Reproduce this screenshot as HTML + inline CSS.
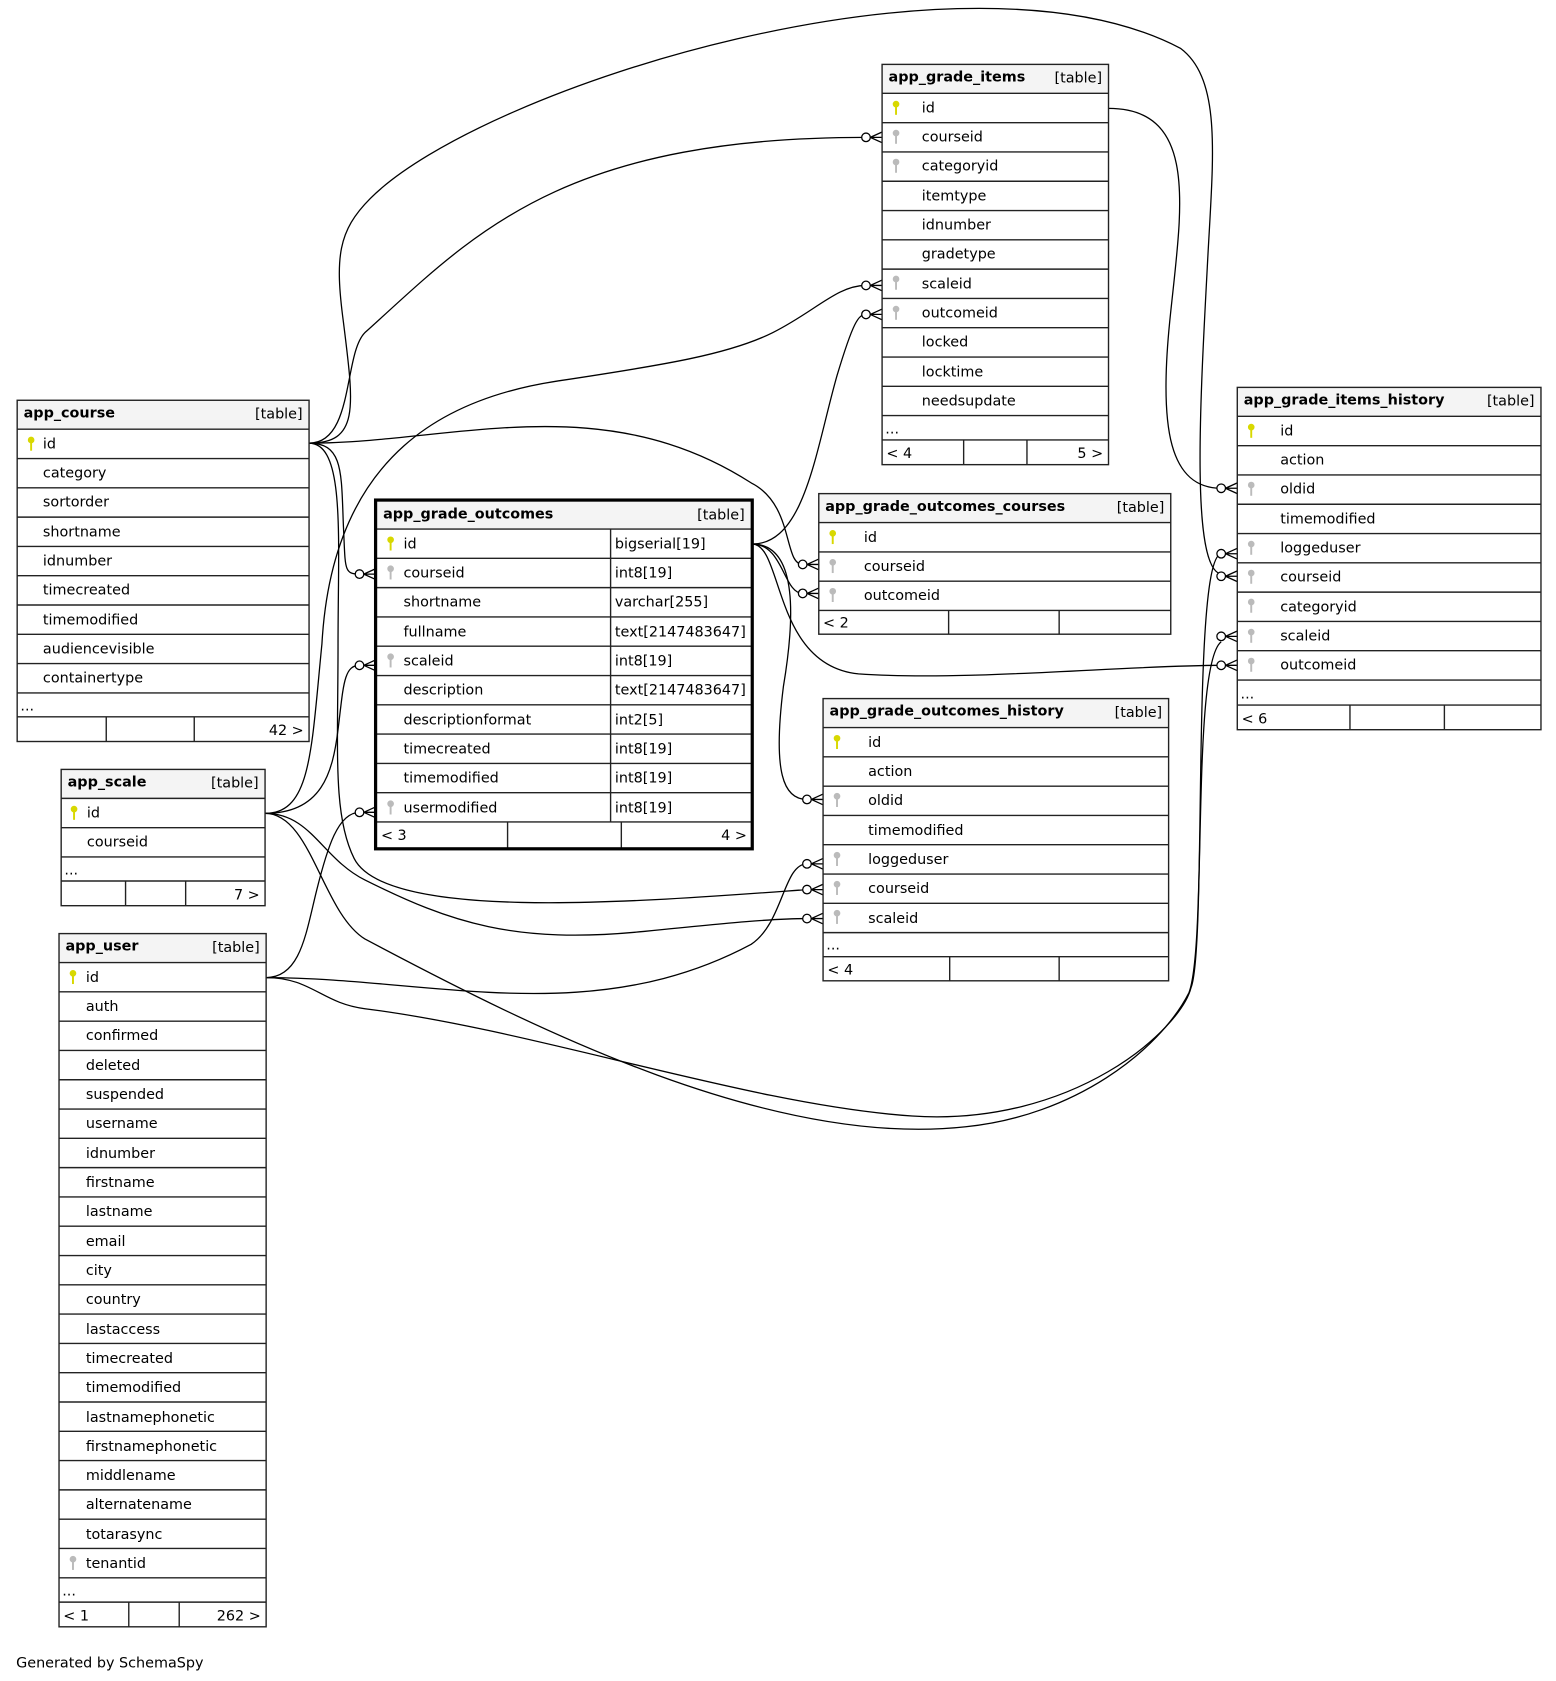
<!DOCTYPE html>
<html><head><meta charset="utf-8"><style>
html,body{margin:0;padding:0;background:#fff;}
svg{display:block;}
text{font-family:"DejaVu Sans","Liberation Sans",sans-serif;font-size:13.4px;fill:#000;}
.h{font-weight:bold;}
.t{text-anchor:end;}
.b{fill:none;stroke:#222;stroke-width:1.3;}
.l{stroke:#222;stroke-width:1.3;}
.hd{fill:#f4f4f4;}
.e{fill:none;stroke:#000;stroke-width:1.2;}
.c{fill:#fff;stroke:#000;stroke-width:1.2;}
.pk{stroke:#d8d800;fill:#d8d800;}
.fk{stroke:#bbb;fill:#bbb;}
</style></head><body>
<svg width="1556" height="1681" viewBox="0 0 1450 1566.5" xmlns="http://www.w3.org/2000/svg">
<defs>
<g id="kp"><circle cx="0" cy="0" r="2.6" class="pk"/><line x1="0" y1="0" x2="0" y2="10" class="pk" stroke-width="1.8"/></g>
<g id="kf"><circle cx="0" cy="0" r="2.6" class="fk"/><line x1="0" y1="0" x2="0" y2="10" class="fk" stroke-width="1.8"/></g>
<g id="cf"><circle cx="-15" cy="0" r="4" class="c"/><path d="M-11,0 L0,-5 M-11,0 L0,0 M-11,0 L0,5" class="e" stroke-width="1.5"/></g>
</defs>

<!-- edges -->
<path class="e" d="M288,413 C330,413 320,330 340,310 C440,220 520,128 807,128"/>
<use href="#cf" x="822" y="128"/>
<path class="e" d="M288,413 C335,413 330,380 320,300 C312,240 315,215 345,185 C450,80 900,-60 1100,45 C1140,75 1130,150 1125,250 C1118,380 1110,530 1138,535"/>
<use href="#cf" x="1153" y="537"/>
<path class="e" d="M288,413 C320,413 318,440 320,490 C322,530 320,535 335,535"/>
<use href="#cf" x="350" y="535"/>
<path class="e" d="M288,413 C420,413 560,360 700,450 C740,470 730,526 748,526"/>
<use href="#cf" x="763" y="526"/>
<path class="e" d="M288,413 C322,413 315,500 315,600 C315,700 310,760 330,800 C360,860 600,840 752,829"/>
<use href="#cf" x="767" y="829"/>
<path class="e" d="M247,758 C290,758 290,700 300,600 C310,420 420,370 520,355 C620,340 680,330 720,310 C760,290 780,266 807,266"/>
<use href="#cf" x="822" y="266"/>
<path class="e" d="M247,758 C300,758 310,720 315,680 C320,640 320,620 335,620"/>
<use href="#cf" x="350" y="620"/>
<path class="e" d="M247,758 C290,758 300,800 340,820 C420,860 480,880 600,868 C680,860 720,856 752,856"/>
<use href="#cf" x="767" y="856"/>
<path class="e" d="M247,758 C290,758 300,850 340,875 C500,960 720,1070 900,1050 C1000,1040 1080,980 1108,925 C1125,880 1110,620 1138,598"/>
<use href="#cf" x="1153" y="593"/>
<path class="e" d="M248,911 C280,911 285,870 295,830 C305,790 315,757 335,757"/>
<use href="#cf" x="350" y="757"/>
<path class="e" d="M248,911 C400,911 550,960 700,880 C730,860 730,805 752,805"/>
<use href="#cf" x="767" y="805"/>
<path class="e" d="M248,911 C290,911 300,935 340,940 C500,960 700,1030 850,1040 C1000,1050 1100,960 1110,920 C1125,880 1110,520 1138,516"/>
<use href="#cf" x="1153" y="516"/>
<path class="e" d="M1033,101 C1120,101 1100,200 1090,300 C1080,400 1090,455 1138,455"/>
<use href="#cf" x="1153" y="455"/>
<path class="e" d="M701,507 C750,507 760,420 780,350 C795,300 800,293 807,293"/>
<use href="#cf" x="822" y="293"/>
<path class="e" d="M701,507 C730,507 730,553 748,553"/>
<use href="#cf" x="763" y="553"/>
<path class="e" d="M701,507 C745,507 740,580 730,640 C720,720 730,745 752,745"/>
<use href="#cf" x="767" y="745"/>
<path class="e" d="M701,507 C730,507 720,620 800,628 C900,635 1050,620 1138,620"/>
<use href="#cf" x="1153" y="620"/>

<!-- app_course -->
<g transform="translate(16,373)">
<rect x="0" y="0" width="272" height="318" fill="#fff"/>
<rect x="0" y="0" width="272" height="27" class="hd"/>
<text x="6" y="16" class="h">app_course</text><text x="266" y="17" class="t">[table]</text>
<g class="l"><line x1="0" y1="27" x2="272" y2="27"/><line x1="0" y1="54.3" x2="272" y2="54.3"/><line x1="0" y1="81.6" x2="272" y2="81.6"/><line x1="0" y1="108.9" x2="272" y2="108.9"/><line x1="0" y1="136.2" x2="272" y2="136.2"/><line x1="0" y1="163.5" x2="272" y2="163.5"/><line x1="0" y1="190.8" x2="272" y2="190.8"/><line x1="0" y1="218.1" x2="272" y2="218.1"/><line x1="0" y1="245.4" x2="272" y2="245.4"/><line x1="0" y1="272.7" x2="272" y2="272.7"/><line x1="0" y1="295" x2="272" y2="295"/><line x1="83" y1="295" x2="83" y2="318"/><line x1="165" y1="295" x2="165" y2="318"/></g>
<use href="#kp" x="13" y="37"/>
<text x="24" y="45">id</text><text x="24" y="72">category</text><text x="24" y="99">sortorder</text><text x="24" y="127">shortname</text><text x="24" y="154">idnumber</text><text x="24" y="181">timecreated</text><text x="24" y="209">timemodified</text><text x="24" y="236">audiencevisible</text><text x="24" y="263">containertype</text><text x="3" y="289">...</text><text x="267" y="312" class="t">42 &gt;</text>
<rect x="0" y="0" width="272" height="318" class="b"/>
</g>

<!-- app_scale -->
<g transform="translate(57,717)">
<rect x="0" y="0" width="190" height="127" fill="#fff"/>
<rect x="0" y="0" width="190" height="27" class="hd"/>
<text x="6" y="16" class="h">app_scale</text><text x="184" y="17" class="t">[table]</text>
<g class="l"><line x1="0" y1="27" x2="190" y2="27"/><line x1="0" y1="54.3" x2="190" y2="54.3"/><line x1="0" y1="81.6" x2="190" y2="81.6"/><line x1="0" y1="104" x2="190" y2="104"/><line x1="60" y1="104" x2="60" y2="127"/><line x1="116" y1="104" x2="116" y2="127"/></g>
<use href="#kp" x="12" y="37"/>
<text x="24" y="45">id</text><text x="24" y="72">courseid</text><text x="3" y="98">...</text><text x="185" y="121" class="t">7 &gt;</text>
<rect x="0" y="0" width="190" height="127" class="b"/>
</g>

<!-- app_user -->
<g transform="translate(55,870)">
<rect x="0" y="0" width="193" height="646" fill="#fff"/>
<rect x="0" y="0" width="193" height="27" class="hd"/>
<text x="6" y="16" class="h">app_user</text><text x="187" y="17" class="t">[table]</text>
<g class="l"><line x1="0" y1="27" x2="193" y2="27"/><line x1="0" y1="54.3" x2="193" y2="54.3"/><line x1="0" y1="81.6" x2="193" y2="81.6"/><line x1="0" y1="108.9" x2="193" y2="108.9"/><line x1="0" y1="136.2" x2="193" y2="136.2"/><line x1="0" y1="163.5" x2="193" y2="163.5"/><line x1="0" y1="190.8" x2="193" y2="190.8"/><line x1="0" y1="218.1" x2="193" y2="218.1"/><line x1="0" y1="245.4" x2="193" y2="245.4"/><line x1="0" y1="272.7" x2="193" y2="272.7"/><line x1="0" y1="300" x2="193" y2="300"/><line x1="0" y1="327.3" x2="193" y2="327.3"/><line x1="0" y1="354.6" x2="193" y2="354.6"/><line x1="0" y1="381.9" x2="193" y2="381.9"/><line x1="0" y1="409.2" x2="193" y2="409.2"/><line x1="0" y1="436.5" x2="193" y2="436.5"/><line x1="0" y1="463.8" x2="193" y2="463.8"/><line x1="0" y1="491.1" x2="193" y2="491.1"/><line x1="0" y1="518.4" x2="193" y2="518.4"/><line x1="0" y1="545.7" x2="193" y2="545.7"/><line x1="0" y1="573" x2="193" y2="573"/><line x1="0" y1="600.3" x2="193" y2="600.3"/><line x1="0" y1="623" x2="193" y2="623"/><line x1="65" y1="623" x2="65" y2="646"/><line x1="112" y1="623" x2="112" y2="646"/></g>
<use href="#kp" x="13" y="37"/><use href="#kf" x="13" y="583"/>
<text x="25" y="45">id</text><text x="25" y="72">auth</text><text x="25" y="99">confirmed</text><text x="25" y="127">deleted</text><text x="25" y="154">suspended</text><text x="25" y="181">username</text><text x="25" y="209">idnumber</text><text x="25" y="236">firstname</text><text x="25" y="263">lastname</text><text x="25" y="291">email</text><text x="25" y="318">city</text><text x="25" y="345">country</text><text x="25" y="373">lastaccess</text><text x="25" y="400">timecreated</text><text x="25" y="427">timemodified</text><text x="25" y="455">lastnamephonetic</text><text x="25" y="482">firstnamephonetic</text><text x="25" y="509">middlename</text><text x="25" y="536">alternatename</text><text x="25" y="564">totarasync</text><text x="25" y="591">tenantid</text><text x="3" y="617">...</text><text x="4" y="640">&lt; 1</text><text x="188" y="640" class="t">262 &gt;</text>
<rect x="0" y="0" width="193" height="646" class="b"/>
</g>

<!-- app_grade_outcomes -->
<g transform="translate(350,466)">
<rect x="0" y="0" width="351" height="325" fill="#fff"/>
<rect x="0" y="0" width="351" height="27" class="hd"/>
<text x="7" y="17" class="h">app_grade_outcomes</text><text x="344" y="18" class="t">[table]</text>
<g class="l"><line x1="0" y1="27" x2="351" y2="27"/><line x1="0" y1="54.3" x2="351" y2="54.3"/><line x1="0" y1="81.6" x2="351" y2="81.6"/><line x1="0" y1="108.9" x2="351" y2="108.9"/><line x1="0" y1="136.2" x2="351" y2="136.2"/><line x1="0" y1="163.5" x2="351" y2="163.5"/><line x1="0" y1="190.8" x2="351" y2="190.8"/><line x1="0" y1="218.1" x2="351" y2="218.1"/><line x1="0" y1="245.4" x2="351" y2="245.4"/><line x1="0" y1="272.7" x2="351" y2="272.7"/><line x1="0" y1="300" x2="351" y2="300"/><line x1="219" y1="27" x2="219" y2="300"/><line x1="123" y1="300" x2="123" y2="325"/><line x1="229" y1="300" x2="229" y2="325"/></g>
<use href="#kp" x="14" y="37"/><use href="#kf" x="14" y="64"/><use href="#kf" x="14" y="146"/><use href="#kf" x="14" y="283"/>
<g><text x="26" y="45">id</text><text x="26" y="72">courseid</text><text x="26" y="99">shortname</text><text x="26" y="127">fullname</text><text x="26" y="154">scaleid</text><text x="26" y="181">description</text><text x="26" y="209">descriptionformat</text><text x="26" y="236">timecreated</text><text x="26" y="263">timemodified</text><text x="26" y="291">usermodified</text>
<text x="223" y="45">bigserial[19]</text><text x="223" y="72">int8[19]</text><text x="223" y="99">varchar[255]</text><text x="223" y="127">text[2147483647]</text><text x="223" y="154">int8[19]</text><text x="223" y="181">text[2147483647]</text><text x="223" y="209">int2[5]</text><text x="223" y="236">int8[19]</text><text x="223" y="263">int8[19]</text><text x="223" y="291">int8[19]</text></g>
<text x="5" y="317">&lt; 3</text><text x="346" y="317" class="t">4 &gt;</text>
<rect x="0" y="0" width="351" height="325" fill="none" stroke="#000" stroke-width="3"/>
</g>

<!-- app_grade_items -->
<g transform="translate(822,60)">
<rect x="0" y="0" width="211" height="373" fill="#fff"/>
<rect x="0" y="0" width="211" height="27" class="hd"/>
<text x="6" y="16" class="h">app_grade_items</text><text x="205" y="17" class="t">[table]</text>
<g class="l"><line x1="0" y1="27" x2="211" y2="27"/><line x1="0" y1="54.3" x2="211" y2="54.3"/><line x1="0" y1="81.6" x2="211" y2="81.6"/><line x1="0" y1="108.9" x2="211" y2="108.9"/><line x1="0" y1="136.2" x2="211" y2="136.2"/><line x1="0" y1="163.5" x2="211" y2="163.5"/><line x1="0" y1="190.8" x2="211" y2="190.8"/><line x1="0" y1="218.1" x2="211" y2="218.1"/><line x1="0" y1="245.4" x2="211" y2="245.4"/><line x1="0" y1="272.7" x2="211" y2="272.7"/><line x1="0" y1="300" x2="211" y2="300"/><line x1="0" y1="327.3" x2="211" y2="327.3"/><line x1="0" y1="350" x2="211" y2="350"/><line x1="76" y1="350" x2="76" y2="373"/><line x1="135" y1="350" x2="135" y2="373"/></g>
<use href="#kp" x="13" y="37"/><use href="#kf" x="13" y="64"/><use href="#kf" x="13" y="91"/><use href="#kf" x="13" y="200"/><use href="#kf" x="13" y="228"/>
<text x="37" y="45">id</text><text x="37" y="72">courseid</text><text x="37" y="99">categoryid</text><text x="37" y="127">itemtype</text><text x="37" y="154">idnumber</text><text x="37" y="181">gradetype</text><text x="37" y="209">scaleid</text><text x="37" y="236">outcomeid</text><text x="37" y="263">locked</text><text x="37" y="291">locktime</text><text x="37" y="318">needsupdate</text><text x="3" y="344">...</text><text x="4" y="367">&lt; 4</text><text x="206" y="367" class="t">5 &gt;</text>
<rect x="0" y="0" width="211" height="373" class="b"/>
</g>

<!-- app_grade_outcomes_courses -->
<g transform="translate(763,460)">
<rect x="0" y="0" width="328" height="131" fill="#fff"/>
<rect x="0" y="0" width="328" height="27" class="hd"/>
<text x="6" y="16" class="h">app_grade_outcomes_courses</text><text x="322" y="17" class="t">[table]</text>
<g class="l"><line x1="0" y1="27" x2="328" y2="27"/><line x1="0" y1="54.3" x2="328" y2="54.3"/><line x1="0" y1="81.6" x2="328" y2="81.6"/><line x1="0" y1="108.9" x2="328" y2="108.9"/><line x1="121" y1="108.9" x2="121" y2="131"/><line x1="224" y1="108.9" x2="224" y2="131"/></g>
<use href="#kp" x="13" y="37"/><use href="#kf" x="13" y="64"/><use href="#kf" x="13" y="91"/>
<text x="42" y="45">id</text><text x="42" y="72">courseid</text><text x="42" y="99">outcomeid</text><text x="4" y="125">&lt; 2</text>
<rect x="0" y="0" width="328" height="131" class="b"/>
</g>

<!-- app_grade_outcomes_history -->
<g transform="translate(767,651)">
<rect x="0" y="0" width="322" height="263" fill="#fff"/>
<rect x="0" y="0" width="322" height="27" class="hd"/>
<text x="6" y="16" class="h">app_grade_outcomes_history</text><text x="316" y="17" class="t">[table]</text>
<g class="l"><line x1="0" y1="27" x2="322" y2="27"/><line x1="0" y1="54.3" x2="322" y2="54.3"/><line x1="0" y1="81.6" x2="322" y2="81.6"/><line x1="0" y1="108.9" x2="322" y2="108.9"/><line x1="0" y1="136.2" x2="322" y2="136.2"/><line x1="0" y1="163.5" x2="322" y2="163.5"/><line x1="0" y1="190.8" x2="322" y2="190.8"/><line x1="0" y1="218.1" x2="322" y2="218.1"/><line x1="0" y1="240.5" x2="322" y2="240.5"/><line x1="118" y1="240.5" x2="118" y2="263"/><line x1="220" y1="240.5" x2="220" y2="263"/></g>
<use href="#kp" x="13" y="37"/><use href="#kf" x="13" y="91"/><use href="#kf" x="13" y="146"/><use href="#kf" x="13" y="173"/><use href="#kf" x="13" y="200"/>
<text x="42" y="45">id</text><text x="42" y="72">action</text><text x="42" y="99">oldid</text><text x="42" y="127">timemodified</text><text x="42" y="154">loggeduser</text><text x="42" y="181">courseid</text><text x="42" y="209">scaleid</text><text x="3" y="234">...</text><text x="4" y="257">&lt; 4</text>
<rect x="0" y="0" width="322" height="263" class="b"/>
</g>

<!-- app_grade_items_history -->
<g transform="translate(1153,361)">
<rect x="0" y="0" width="283" height="319" fill="#fff"/>
<rect x="0" y="0" width="283" height="27" class="hd"/>
<text x="6" y="16" class="h">app_grade_items_history</text><text x="277" y="17" class="t">[table]</text>
<g class="l"><line x1="0" y1="27" x2="283" y2="27"/><line x1="0" y1="54.3" x2="283" y2="54.3"/><line x1="0" y1="81.6" x2="283" y2="81.6"/><line x1="0" y1="108.9" x2="283" y2="108.9"/><line x1="0" y1="136.2" x2="283" y2="136.2"/><line x1="0" y1="163.5" x2="283" y2="163.5"/><line x1="0" y1="190.8" x2="283" y2="190.8"/><line x1="0" y1="218.1" x2="283" y2="218.1"/><line x1="0" y1="245.4" x2="283" y2="245.4"/><line x1="0" y1="272.7" x2="283" y2="272.7"/><line x1="0" y1="296" x2="283" y2="296"/><line x1="105" y1="296" x2="105" y2="319"/><line x1="193" y1="296" x2="193" y2="319"/></g>
<use href="#kp" x="13" y="37"/><use href="#kf" x="13" y="91"/><use href="#kf" x="13" y="146"/><use href="#kf" x="13" y="173"/><use href="#kf" x="13" y="200"/><use href="#kf" x="13" y="228"/><use href="#kf" x="13" y="255"/>
<text x="40" y="45">id</text><text x="40" y="72">action</text><text x="40" y="99">oldid</text><text x="40" y="127">timemodified</text><text x="40" y="154">loggeduser</text><text x="40" y="181">courseid</text><text x="40" y="209">categoryid</text><text x="40" y="236">scaleid</text><text x="40" y="263">outcomeid</text><text x="3" y="290">...</text><text x="4" y="313">&lt; 6</text>
<rect x="0" y="0" width="283" height="319" class="b"/>
</g>

<text x="15" y="1554">Generated by SchemaSpy</text>
</svg>
</body></html>
